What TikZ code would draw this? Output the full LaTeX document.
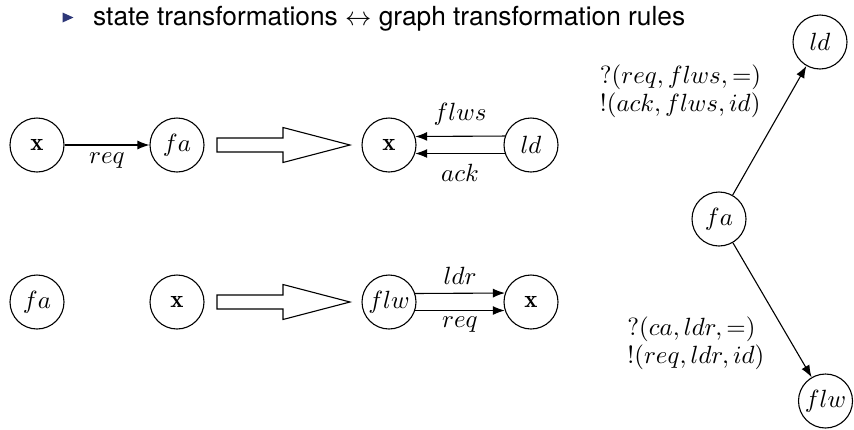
\documentclass[tikz,border=0pt]{standalone}
\usepackage{fontspec}
\setsansfont{TeX Gyre Heros}
\usetikzlibrary{arrows.meta}
% Computer Modern math, scalable to any size with the 10pt designs
\DeclareFontFamily{OML}{cmm}{\skewchar\font127 }
\DeclareFontShape{OML}{cmm}{m}{it}{<->cmmi10}{}
\DeclareFontShape{OT1}{cmr}{m}{n}{<->cmr10}{}
\DeclareFontShape{OT1}{cmr}{bx}{n}{<->cmbx10}{}
\DeclareFontFamily{OMS}{cmsy}{\skewchar\font48 }
\DeclareFontShape{OMS}{cmsy}{m}{n}{<->cmsy10}{}
\definecolor{bulletblue}{RGB}{45,55,120}
\begin{document}
\begin{tikzpicture}[x=1pt,y=-1pt,
  font=\fontsize{24.9}{28}\selectfont,
  state/.style={circle,draw,line width=1.1pt,minimum size=54pt,inner sep=0pt},
  link/.style={line width=1.1pt,-{Latex[length=12pt,width=9pt]}},
  bigarrow/.style={draw,line width=1.1pt,line join=miter},
  lbl/.style={inner sep=0pt},
  rulelbl/.style={inner sep=0pt,anchor=east,align=left}]
\useasboundingbox (0,0) rectangle (854,429);

% heading with beamer-style bullet
\fill[bulletblue] (62.5,12.5) -- (73.5,17.5) -- (62.5,22.5) -- cycle;
\node[anchor=base west,inner sep=0pt,font=\sffamily\fontsize{26.3}{31}\selectfont] (head) at (93,25)
  {state transformations $\leftrightarrow$ graph transformation rules};

% first rule: x --req--> fa  ==>  x <--flws,ack-- ld
\node[state] (x1)  at (37,145)  {$\mathbf{x}$};
\node[state] (fa1) at (177,145) {$fa$};
\draw[link] (x1) -- node[lbl,below=7pt] {$req$} (fa1);

\draw[bigarrow] (217,138) -- (283,138) -- (283,127.5) -- (350,145)
  -- (283,162.5) -- (283,152) -- (217,152) -- cycle;

\node[state] (x2)  at (389,145) {$\mathbf{x}$};
\node[state] (ld1) at (531,145) {$ld$};
\draw[link] (ld1.161.6) -- node[lbl,above=10pt] {$flws$} (x2.18.4);
\draw[link] (ld1.198.4) -- node[lbl,below=10pt] {$ack$} (x2.-18.4);

% second rule: fa, x  ==>  flw --ldr,req--> x
\node[state] (fa2) at (37,302)  {$fa$};
\node[state] (x3)  at (177,302) {$\mathbf{x}$};

\draw[bigarrow] (217,295) -- (283,295) -- (283,284.5) -- (350,302)
  -- (283,319.5) -- (283,309) -- (217,309) -- cycle;

\node[state] (flw1) at (389,302) {$flw$};
\node[state] (x4)   at (531,302) {$\mathbf{x}$};
\draw[link] (flw1.18.4) -- node[lbl,above=8pt] {$ldr$} (x4.161.6);
\draw[link] (flw1.-18.4) -- node[lbl,below=6pt] {$req$} (x4.198.4);

% behaviour graph of the factory
\node[state] (ld2)  at (820,42)    {$ld$};
\node[state] (fa3)  at (719,219)   {$fa$};
\node[state] (flw2) at (825.5,401) {$flw$};
\draw[link] (fa3) -- node[rulelbl,pos=0.8,xshift=-30pt]
  {$?(req, flws, =)$\\$!(ack, flws, id)$} (ld2);
\draw[link] (fa3) -- node[rulelbl,pos=0.75,xshift=-27pt]
  {$?(ca, ldr, =)$\\$!(req, ldr, id)$} (flw2);
\end{tikzpicture}
\end{document}
